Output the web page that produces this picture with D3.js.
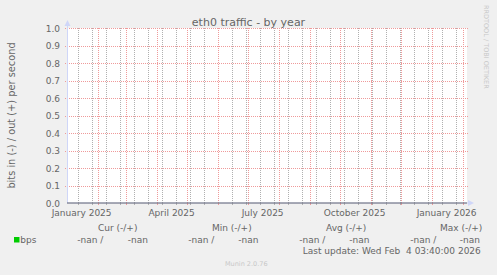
<!DOCTYPE html>
<html>
<head>
<meta charset="utf-8">
<script src="https://cdn.jsdelivr.net/npm/d3@7"></script>
<style>
  html, body { margin: 0; padding: 0; background: #f0f0f0; }
  svg { display: block; font-family: "DejaVu Sans", sans-serif; }
  text { white-space: pre; }
</style>
</head>
<body>
<svg id="chart" width="497" height="275"></svg>
<script>
// chart values
var title = 'eth0 traffic - by year';
var yAxisTitle = 'bits in (-) / out (+) per second';
var yTickValues = [0, 0.1, 0.2, 0.3, 0.4, 0.5, 0.6, 0.7, 0.8, 0.9, 1.0];
var monthLabels = ['January 2025', 'April 2025', 'July 2025', 'October 2025', 'January 2026'];
var monthLabelDates = ['2025-01-01', '2025-04-01', '2025-07-01', '2025-10-01', '2026-01-01'];
var seriesNames = ['bps'];
var seriesColors = ['#00cc00'];
// in (-) and out (+) samples: the graph has no data, every value is nan
var sampleTimes = ['2025-01-01', '2026-02-04'];
var inValues = [NaN, NaN];
var outValues = [NaN, NaN];
var legendHeaders = ['Cur (-/+)', 'Min (-/+)', 'Avg (-/+)', 'Max (-/+)'];
var legendIn = ['-nan', '-nan', '-nan', '-nan'];
var legendOut = ['-nan', '-nan', '-nan', '-nan'];
var lastUpdate = 'Last update: Wed Feb  4 03:40:00 2026';
var footer = 'Munin 2.0.76';
var watermark = 'RRDTOOL / TOBI OETIKER';

var endTime = new Date(Date.UTC(2026, 1, 5, 9, 0));
var startTime = new Date(endTime.getTime() - 400 * 864e5);

(function (d3) {
    var svg = d3.select('#chart');
    var left = 67, right = 467, top = 28, bottom = 203;
    var font = '#666666';

    var x = d3.scaleUtc().domain([startTime, endTime]).range([left, right]);
    var y = d3.scaleLinear().domain([0, 1]).range([bottom, top]);

    // canvas
    svg.append('rect')
        .attr('x', left).attr('y', top)
        .attr('width', right - left).attr('height', bottom - top)
        .attr('fill', '#ffffff');

    var grid = svg.append('g');

    // draws one set of dotted vertical grid lines
    function vGrid(dates, colour) {
        grid.append('g').selectAll('line')
            .data(dates)
            .enter()
            .append('line')
            .attr('x1', function (d) { return Math.round(x(d)) + 0.5; })
            .attr('x2', function (d) { return Math.round(x(d)) + 0.5; })
            .attr('y1', top).attr('y2', bottom)
            .attr('stroke', colour)
            .attr('stroke-dasharray', '1,1');
        // small ticks under the axis
        grid.append('g').selectAll('line')
            .data(dates)
            .enter()
            .append('line')
            .attr('x1', function (d) { return Math.round(x(d)) + 0.5; })
            .attr('x2', function (d) { return Math.round(x(d)) + 0.5; })
            .attr('y1', bottom).attr('y2', bottom + 2)
            .attr('stroke', colour);
    }

    // minor grid: every second sunday, major grid: month starts
    vGrid(d3.utcWeek.range(new Date(Date.UTC(2025, 0, 12)), endTime, 2), '#b0b0b0');
    vGrid(d3.utcMonth.range(startTime, endTime), '#ef9a9a');

    // horizontal grid
    grid.append('g').selectAll('line')
        .data(yTickValues.slice(1))
        .enter()
        .append('line')
        .attr('x1', left - 2).attr('x2', right + 1)
        .attr('y1', function (d) { return Math.round(y(d)) + 0.5; })
        .attr('y2', function (d) { return Math.round(y(d)) + 0.5; })
        .attr('stroke', '#ef9a9a')
        .attr('stroke-dasharray', '1,1');

    // y tick labels
    svg.append('g').selectAll('text')
        .data(yTickValues)
        .enter()
        .append('text')
        .attr('x', left - 7)
        .attr('y', function (d) { return y(d) + 3.5; })
        .attr('text-anchor', 'end')
        .attr('font-size', 9)
        .attr('fill', font)
        .text(function (d) { return d3.format('.1f')(d); });

    // x labels, centred half a month after the label date
    svg.append('g').selectAll('text')
        .data(monthLabels)
        .enter()
        .append('text')
        .attr('x', function (d, i) {
            var t = new Date(monthLabelDates[i] + 'T00:00:00Z');
            return x(d3.utcDay.offset(t, 15));
        })
        .attr('y', 215.5)
        .attr('text-anchor', 'middle')
        .attr('font-size', 9)
        .attr('fill', font)
        .text(function (d) { return d; });

    // axes
    svg.append('line')
        .attr('x1', left + 0.5).attr('x2', left + 0.5)
        .attr('y1', top - 2).attr('y2', bottom)
        .attr('stroke', '#cfd6f8');
    svg.append('line')
        .attr('x1', left).attr('x2', right + 2)
        .attr('y1', bottom).attr('y2', bottom)
        .attr('stroke', '#cfd6f8');
    svg.append('line')
        .attr('x1', left).attr('x2', right)
        .attr('y1', bottom).attr('y2', bottom)
        .attr('stroke', '#000000')
        .attr('stroke-opacity', 0.55);
    svg.append('path')
        .attr('d', 'M' + (left - 2.5) + ',' + (top - 2) + 'L' + (left + 0.5) + ',' + (top - 8) +
            'L' + (left + 3.5) + ',' + (top - 2) + 'Z')
        .attr('fill', '#cfd6f8');
    svg.append('path')
        .attr('d', 'M' + (right + 1) + ',' + (bottom - 3) + 'L' + (right + 7) + ',' + bottom +
            'L' + (right + 1) + ',' + (bottom + 3) + 'Z')
        .attr('fill', '#cfd6f8');

    // series (all nan, so nothing visible)
    var times = sampleTimes.map(function (s) { return new Date(s + 'T00:00:00Z'); });
    var line = d3.line()
        .defined(function (d) { return !isNaN(d[1]); })
        .x(function (d) { return x(d[0]); })
        .y(function (d) { return y(d[1]); });
    [outValues, inValues.map(function (v) { return -v; })].forEach(function (vals) {
        svg.append('path')
            .datum(times.map(function (t, i) { return [t, vals[i]]; }))
            .attr('fill', 'none')
            .attr('stroke', seriesColors[0])
            .attr('d', line);
    });

    // titles
    svg.append('text')
        .attr('x', 248.5).attr('y', 25.5)
        .attr('text-anchor', 'middle')
        .attr('font-size', 11)
        .attr('fill', font)
        .text(title);

    svg.append('text')
        .attr('transform', 'translate(14.5,' + (top + bottom) / 2 + ') rotate(-90)')
        .attr('text-anchor', 'middle')
        .attr('font-size', 9.8)
        .attr('fill', font)
        .text(yAxisTitle);

    svg.append('text')
        .attr('transform', 'translate(483.5,5) rotate(90)')
        .attr('font-size', 6.5)
        .attr('fill', '#c8c8c8')
        .text(watermark);

    // legend
    var legend = svg.append('g')
        .attr('font-size', 9)
        .attr('fill', font);
    var colStart = [77.3, 188.3, 299.3, 410.3];
    var colSecond = [127.7, 238.3, 349.3, 459.7];
    var headStart = [98, 212, 326, 440];

    legend.append('g').selectAll('text')
        .data(legendHeaders)
        .enter()
        .append('text')
        .attr('x', function (d, i) { return headStart[i]; })
        .attr('y', 230.5)
        .text(function (d) { return d; });

    seriesNames.forEach(function (name, k) {
        legend.append('rect')
            .attr('x', 14).attr('y', 237)
            .attr('width', 5.5).attr('height', 5.5)
            .attr('fill', seriesColors[k]);
        legend.append('text')
            .attr('x', 20.3).attr('y', 242.8)
            .text(name);
        legend.append('g').selectAll('text')
            .data(legendIn)
            .enter()
            .append('text')
            .attr('x', function (d, i) { return colStart[i]; })
            .attr('y', 242.8)
            .text(function (d) { return d + ' /'; });
        legend.append('g').selectAll('text')
            .data(legendOut)
            .enter()
            .append('text')
            .attr('x', function (d, i) { return colSecond[i]; })
            .attr('y', 242.8)
            .text(function (d) { return d; });
    });

    legend.append('text')
        .attr('x', 302.7).attr('y', 254)
        .text(lastUpdate);

    svg.append('text')
        .attr('x', 225).attr('y', 265.5)
        .attr('font-size', 6.5)
        .attr('fill', '#c8c8c8')
        .text(footer);
})(window.d3);
</script>
</body>
</html>
